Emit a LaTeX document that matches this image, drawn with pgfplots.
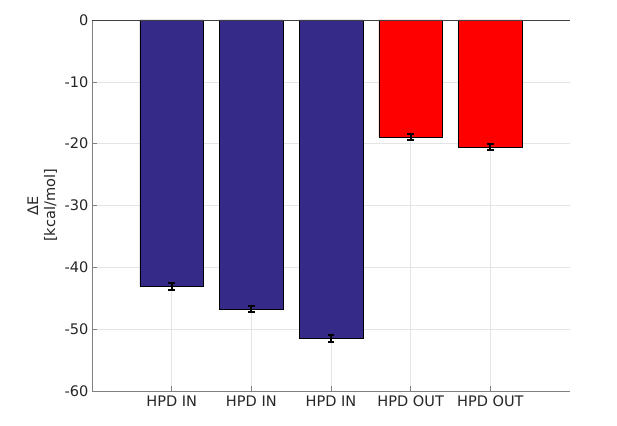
\documentclass[border=0pt]{standalone}
\usepackage{pgfplots}
\pgfplotsset{compat=1.18}
\usepackage{fontspec}
\setmainfont{DejaVu Sans}
\definecolor{barblue}{RGB}{53,42,135}
\definecolor{axgray}{RGB}{128,128,128}
\definecolor{txtgray}{RGB}{38,38,38}
\definecolor{gridgray}{RGB}{228,228,228}
\begin{document}
\begin{tikzpicture}
\begin{axis}[
    scale only axis,
    width=478bp, height=371bp,
    xmin=0, xmax=6,
    ymin=-60, ymax=0,
    xtick={1,2,3,4,5},
    xticklabels={HPD IN,HPD IN,HPD IN,HPD OUT,HPD OUT},
    ytick={-60,-50,-40,-30,-20,-10,0},
    /pgf/number format/assume math mode=true,
    axis x line*=bottom,
    axis y line*=left,
    axis line style={axgray, line width=0.8bp, -},
    tick style={axgray, line width=0.6bp},
    major tick length=5bp,
    tick align=inside,
    grid=major,
    grid style={gridgray, line width=0.6bp},
    tick label style={font=\fontsize{14.6}{17}\selectfont, text=txtgray},
    xticklabel style={yshift=-1bp},
    ylabel={ΔE\\{}[kcal/mol]},
    ylabel style={align=center, font=\fontsize{14.6}{17}\selectfont, text=txtgray,
        at={(axis description cs:-0.066,0.5)}, anchor=south},
    clip=false,
]
\addplot[ybar, bar width=0.8, bar shift=0pt, fill=barblue, draw=black, line width=0.5bp,
    error bars/.cd, y dir=both, y explicit,
    error bar style={black, line width=2bp},
    error mark options={rotate=90, mark size=3.3bp, line width=2bp, black}]
    coordinates {
    (1,-43.1) +- (0,0.5)
    (2,-46.7) +- (0,0.5)
    (3,-51.5) +- (0,0.5)
};
\addplot[ybar, bar width=0.8, bar shift=0pt, fill=red, draw=black, line width=0.5bp,
    error bars/.cd, y dir=both, y explicit,
    error bar style={black, line width=2bp},
    error mark options={rotate=90, mark size=3.3bp, line width=2bp, black}]
    coordinates {
    (4,-18.9) +- (0,0.5)
    (5,-20.5) +- (0,0.5)
};
% bar baseline at zero
\draw[black!75, line width=0.8bp] (rel axis cs:0,1) -- (rel axis cs:1,1);
\end{axis}
\pgfresetboundingbox
\useasboundingbox (-92bp,-35bp) rectangle (525bp,391bp);
\end{tikzpicture}
\end{document}
